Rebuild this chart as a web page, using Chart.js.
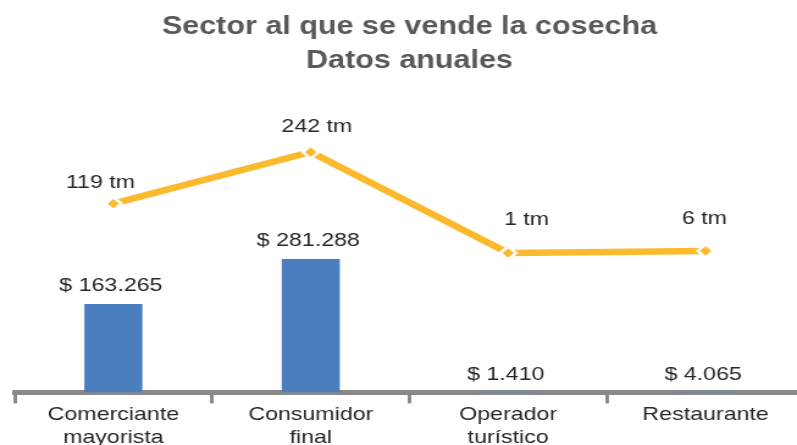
<!DOCTYPE html>
<html>
<head>
<meta charset="utf-8">
<script src="https://cdn.jsdelivr.net/npm/chart.js@4/dist/chart.umd.min.js"></script>
<style>
  html, body { margin: 0; padding: 0; background: #ffffff; overflow: hidden; }
  #frame { width: 797px; height: 445px; overflow: hidden; position: relative; }
  #stretch { position: absolute; left: 0; top: 0; transform: scaleX(1.2205); transform-origin: 0 0; }
</style>
</head>
<body>
<div id="frame"><div id="stretch"><canvas id="c" width="660" height="449"></canvas></div></div>
<script>
// ---- data ----
const categories = [["Comerciante", "mayorista"], ["Consumidor", "final"], ["Operador", "turístico"], ["Restaurante"]];
const ventas = [163265, 281288, 1410, 4065];      // $ (bars)
const toneladas = [119, 242, 1, 6];               // tm (line)
const titleLines = ["Sector al que se vende la cosecha", "Datos anuales"];

// ---- style ----
const FONT = "'Liberation Sans', Arial, sans-serif";
const BAR_COLOR = "#4A7EBF";
const LINE_COLOR = "#FBBA2E";
const AXIS_COLOR = "#898989";
const LABEL_COLOR = "#262626";
const lineLabelDX = [-10.6, 5, 15, -1];
const lineLabelDY = [-21, -25, -33, -32];

function fmtMoney(v) {
  return "$ " + String(v).replace(/\B(?=(\d{3})+(?!\d))/g, ".");
}

const labelPlugin = {
  id: "valueLabels",
  afterDatasetsDraw(chart) {
    const ctx = chart.ctx;
    const area = chart.chartArea;
    ctx.save();
    ctx.font = "19px " + FONT;
    ctx.fillStyle = LABEL_COLOR;
    ctx.textAlign = "center";
    ctx.textBaseline = "middle";
    const barMeta = chart.getDatasetMeta(0);
    barMeta.data.forEach((el, i) => {
      const top = Math.min(el.y, area.bottom);
      ctx.fillText(fmtMoney(ventas[i]), el.x - 2, top - 18);
    });
    const lineMeta = chart.getDatasetMeta(1);
    lineMeta.data.forEach((el, i) => {
      ctx.fillText(toneladas[i] + " tm", el.x + lineLabelDX[i], el.y + lineLabelDY[i]);
    });
    ctx.restore();
  }
};

new Chart(document.getElementById("c"), {
  type: "bar",
  data: {
    labels: categories,
    datasets: [
      {
        type: "bar",
        data: ventas,
        yAxisID: "y",
        backgroundColor: BAR_COLOR,
        barPercentage: 0.294,
        categoryPercentage: 1,
        order: 2
      },
      {
        type: "line",
        data: toneladas,
        yAxisID: "y1",
        borderColor: LINE_COLOR,
        borderWidth: 6.5,
        tension: 0,
        pointStyle: "rectRot",
        pointRadius: 6.5,
        pointBackgroundColor: LINE_COLOR,
        pointBorderColor: "#ffffff",
        pointBorderWidth: 2.5,
        clip: false,
        order: 1
      }
    ]
  },
  options: {
    responsive: false,
    devicePixelRatio: 1,
    animation: false,
    layout: { autoPadding: false, padding: { left: 12, right: 1, top: 0, bottom: 0 } },
    plugins: {
      legend: { display: false },
      tooltip: { enabled: false },
      title: {
        display: true,
        text: titleLines,
        color: "#595959",
        font: { family: FONT, size: 25, weight: "bold", lineHeight: 1.36 },
        padding: { top: 10, bottom: 20 }
      }
    },
    scales: {
      x: {
        type: "category",
        offset: true,
        grid: {
          offset: true,
          drawOnChartArea: false,
          drawTicks: true,
          tickLength: 11,
          color: AXIS_COLOR,
          lineWidth: 3
        },
        border: { display: true, color: AXIS_COLOR, width: 5 },
        ticks: {
          color: LABEL_COLOR,
          font: { family: FONT, size: 19, lineHeight: 1.2 },
          padding: 0,
          maxRotation: 0,
          autoSkip: false
        }
      },
      y: {
        type: "logarithmic",
        display: false,
        min: 56040,
        max: 1970000
      },
      y1: {
        type: "linear",
        display: false,
        min: -331.7,
        max: 370.9
      }
    }
  },
  plugins: [labelPlugin]
});
</script>
</body>
</html>
